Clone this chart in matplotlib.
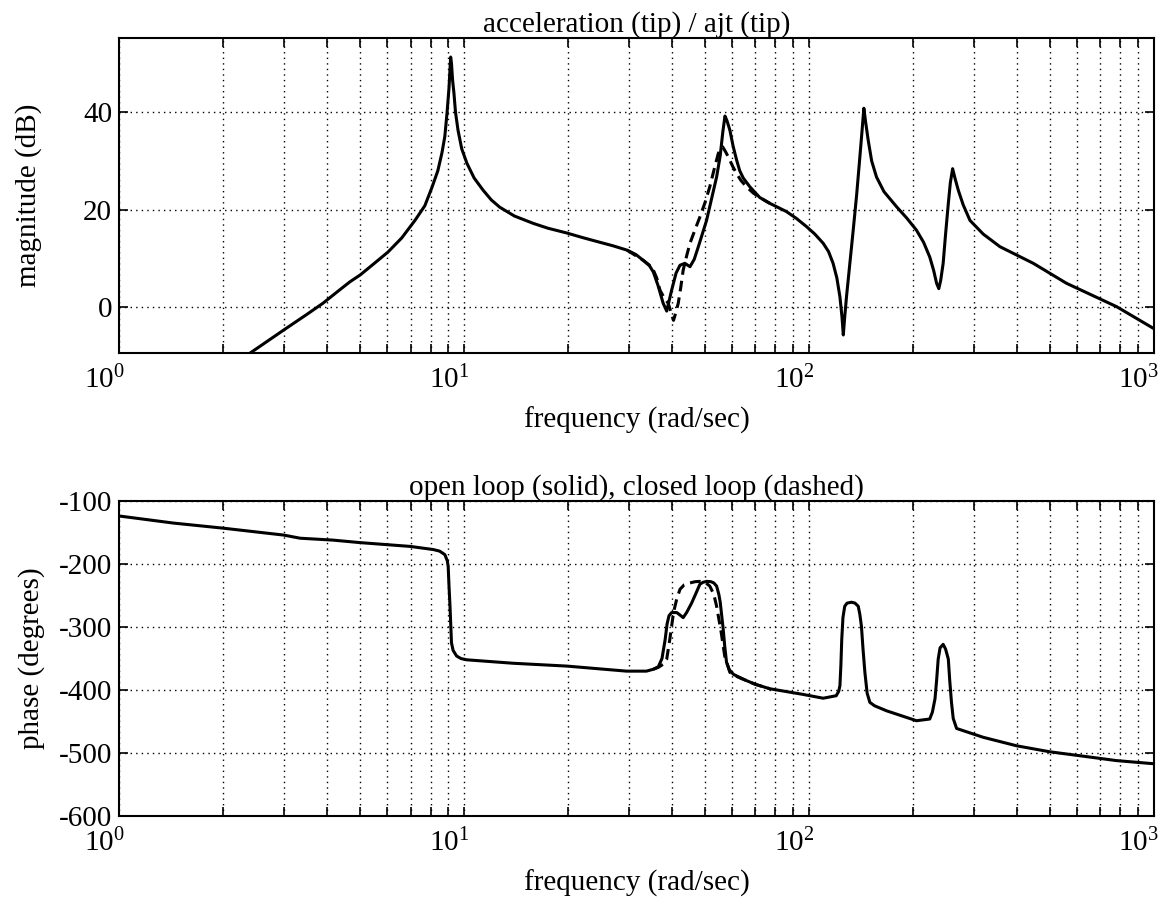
import math
import matplotlib.pyplot as plt
import matplotlib.transforms as mtransforms
from matplotlib.ticker import LogLocator, FuncFormatter, NullFormatter

plt.rcParams['font.family'] = ['Liberation Serif', 'DejaVu Serif']
plt.rcParams['mathtext.fontset'] = 'custom'
plt.rcParams['mathtext.rm'] = 'Liberation Serif'
plt.rcParams['axes.unicode_minus'] = False

FS = 21

# magnitude, open loop (solid)
mag_w = [2.2, 2.4, 3.0, 3.5, 3.9, 4.3, 4.67, 5.0, 5.5, 6.02, 6.6, 7.21, 7.7, 8.08, 8.4, 8.63,
         8.8, 8.93, 9.05, 9.12, 9.15, 9.2, 9.27, 9.35, 9.45, 9.61, 9.85, 10.2, 10.7, 11.36,
         12.0, 12.7, 14.0, 15.86, 17.5, 19.9, 22.0, 24.8, 27.0, 29.7, 31.5, 33.1, 34.5,
         35.4, 36.5, 37.8, 38.7, 40.0, 41.2, 42.3, 43.7, 45.2, 46.5, 47.8, 50.5, 54.0,
         55.3, 56.3, 57.1, 57.9, 59.0, 60.3, 61.7, 63.0, 64.5, 67.4, 72.0, 77.0, 86.1,
         92.0, 98.5, 104, 110, 114, 117.5, 120.5, 123, 124.7, 125.8, 127, 128.5, 131,
         134.4, 137.5, 140.5, 142.5, 144.3, 146, 148.5, 152, 157, 165, 179.5, 192, 205,
         215, 224, 230, 234.5, 238, 241, 245, 249, 253.6, 257, 261, 265, 271, 280, 293,
         320, 358, 447, 558, 780, 1000]
mag_ol = [-11.5, -9.4, -4.7, -1.5, 0.8, 3.2, 5.2, 6.6, 9.0, 11.3, 14.2, 17.8, 20.8, 24.6,
          28.0, 31.6, 35.0, 39.8, 45.0, 49.5, 51.3, 50.0, 46.5, 44.0, 40.0, 36.3, 32.5,
          29.5, 26.5, 24.0, 22.0, 20.5, 18.7, 17.2, 16.2, 15.2, 14.3, 13.3, 12.6, 11.7,
          10.8, 9.6, 8.5, 7.2, 4.5, 0.8, -0.8, 3.5, 7.0, 8.6, 9.0, 8.3, 9.8, 12.4, 17.8,
          26.7, 31.0, 36.0, 39.2, 38.2, 36.3, 33.0, 30.2, 28.0, 26.5, 24.7, 22.5, 21.3,
          19.6, 18.2, 16.5, 15.0, 13.1, 11.4, 9.0, 6.0, 2.1, -2.0, -5.7, -2.0, 2.1, 8.0,
          15.8, 23.0, 30.8, 36.0, 40.8, 38.0, 34.3, 30.0, 26.7, 23.7, 20.6, 18.3, 15.8,
          13.3, 10.3, 7.5, 4.9, 3.8, 5.5, 9.0, 15.0, 21.3, 25.5, 28.4, 26.5, 24.0, 21.0,
          17.8, 15.0, 12.4, 9.0, 4.9, 0.1, -4.4]

# magnitude, closed loop (dashed)
mag_w_cl = [29.7, 33.1, 34.5, 35.4, 36.2, 37.0, 38.0, 39.1, 40.0, 40.5, 41.1, 41.8, 42.5,
            43.2, 44.2, 45.2, 46.7, 48.3, 50.0, 51.6, 53.0, 54.6, 55.4, 56.2, 57.2, 58.4,
            60.0, 61.7, 63.5, 65.9, 69.0, 72.0, 77.0]
mag_cl = [11.7, 9.6, 8.6, 7.6, 6.0, 3.5, 2.0, 0.8, -1.5, -2.7, -1.2, 0.8, 4.0,
          7.6, 10.5, 13.1, 15.8, 18.5, 21.5, 24.7, 28.0, 31.5, 32.5, 32.9, 32.0, 30.8,
          29.0, 27.4, 26.0, 24.7, 23.4, 22.5, 21.3]

# phase, open loop (solid)
ph_w = [1, 1.44, 2, 3, 3.35, 4.17, 5, 6.98, 8.15, 8.5, 8.8, 8.95, 9.0, 9.05, 9.11, 9.2,
        9.3, 9.52, 9.8, 10.18, 13.9, 19.9, 29.6, 33.8, 35.4, 36.6, 37.5, 38.3, 38.8, 39.3,
        40, 41.4, 42.3, 43.2, 44.2, 45.7, 47, 48.3, 49.3, 50.5, 52, 53, 54, 54.8, 55.3,
        56.4, 57, 57.7, 58.8, 60.4, 63, 65.9, 70, 77.1, 96.3, 110, 120, 122, 123, 123.8,
        124.5, 125.5, 127, 129, 133, 136, 139, 140.5, 142, 143.5, 145.3, 147.5, 150.2,
        155, 168, 205, 224, 228, 232, 234.5, 237, 240, 245, 249, 253.6, 256, 259, 262,
        268, 320, 400, 499, 624, 779, 1000]
ph_ol = [-123.7, -135, -143, -154, -159, -162, -166, -172, -177, -179.5, -185, -195, -204,
         -235, -267, -325, -337, -346, -350, -352, -357.5, -362, -370, -370, -367, -363,
         -350, -320, -295, -282, -277, -277, -281, -285, -277, -262, -247, -232, -229,
         -227.5, -228, -230, -235, -248, -260, -302, -330, -356, -368, -375, -380, -385,
         -391, -398, -407, -413, -409, -402, -393, -360, -320, -285, -267, -262, -260.6,
         -262, -267, -280, -299, -335, -372, -405, -419.6, -425, -433, -448.7, -446, -435,
         -414, -385, -351, -333, -327.5, -335, -351, -385, -419.6, -445, -461, -475,
         -488.5, -498, -505, -512, -517]

# phase, closed loop (dashed)
ph_w_cl = [35.4, 36.6, 37.8, 38.7, 39.5, 40.5, 41.4, 42.3, 43.5, 45.2, 46.8, 48.3, 50.0,
           51.6, 53.0, 54, 55.7, 57, 59, 61.5, 64.5, 70, 77.1]
ph_cl = [-367, -364, -359, -351, -320, -277, -255, -240, -233, -230, -228, -227.5, -229,
         -235, -248, -267, -309, -346, -372, -378, -383, -391, -398]

mag_ticks = [0, 20, 40]
ph_ticks = [-100, -200, -300, -400, -500, -600]


def dec_label(v, pos):
    """Подпись 10^n"""
    e = int(round(math.log10(v)))
    return r'$\mathregular{10^{%d}}$' % e


def style_axes(ax):
    ax.set_xscale('log')
    ax.set_xlim(1, 1000)
    ax.xaxis.set_major_locator(LogLocator(base=10, numticks=10))
    ax.xaxis.set_minor_locator(LogLocator(base=10, subs=range(2, 10), numticks=20))
    ax.xaxis.set_major_formatter(FuncFormatter(dec_label))
    ax.xaxis.set_minor_formatter(NullFormatter())
    ax.tick_params(which='both', direction='in', top=True, right=True,
                   length=6.5, width=1.2, labelsize=FS)
    ax.tick_params(axis='y', pad=5)
    ax.tick_params(axis='x', pad=9)
    ax.grid(True, which='both', axis='x', color='black', linestyle=(0, (1, 3)), linewidth=1)
    ax.grid(True, which='major', axis='y', color='black', linestyle=(0, (1, 3)), linewidth=1)
    for s in ax.spines.values():
        s.set_linewidth(1.5)


fig = plt.figure(figsize=(11.68, 9.01), dpi=100)
ax1 = fig.add_axes([0.1019, 0.6082, 0.886, 0.3496])
ax2 = fig.add_axes([0.1019, 0.0943, 0.886, 0.3496])
shift = mtransforms.ScaledTranslation(-0.15, 0, fig.dpi_scale_trans)

ax1.plot(mag_w_cl, mag_cl, color='black', linestyle=(0, (3.5, 2)), linewidth=2.2)
ax1.plot(mag_w, mag_ol, color='black', linewidth=2.2)
style_axes(ax1)
ax1.set_ylim(-9.4, 55.2)
ax1.set_yticks(mag_ticks)
ax1.set_title('acceleration (tip) / ajt (tip)', fontsize=FS, pad=1)
ax1.set_xlabel('frequency (rad/sec)', fontsize=FS, va='top')
ax1.xaxis.set_label_coords(0.5, -0.17)
ax1.set_ylabel('magnitude (dB)', fontsize=FS)
ax1.yaxis.set_label_coords(-0.074, 0.5)

ax2.plot(ph_w_cl, ph_cl, color='black', linestyle=(0, (3.5, 2)), linewidth=2.2)
ax2.plot(ph_w, ph_ol, color='black', linewidth=2.2)
style_axes(ax2)
ax2.set_ylim(-600, -100)
ax2.set_yticks(ph_ticks)
ax2.set_title('open loop (solid), closed loop (dashed)', fontsize=FS, pad=1)
ax2.set_xlabel('frequency (rad/sec)', fontsize=FS, va='top')
ax2.xaxis.set_label_coords(0.5, -0.17)
ax2.set_ylabel('phase (degrees)', fontsize=FS)
ax2.yaxis.set_label_coords(-0.072, 0.5)

for ax in (ax1, ax2):
    for lab in ax.get_xticklabels():
        lab.set_transform(lab.get_transform() + shift)

fig.savefig('out.png', dpi=100)
